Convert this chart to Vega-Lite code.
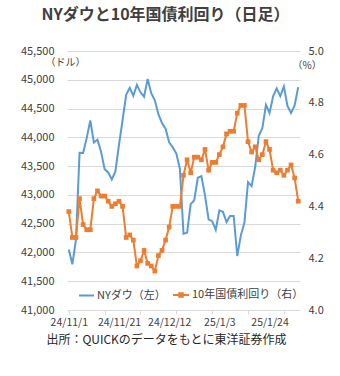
{
  "$schema": "https://vega.github.io/schema/vega-lite/v6.json",
  "width": 233,
  "height": 259,
  "autosize": {"type": "none"},
  "padding": {"left": 67, "top": 51, "right": 40, "bottom": 66},
  "background": "white",
  "config": {
    "font": "Noto Sans CJK JP",
    "view": {"stroke": null},
    "axis": {"labelFont": "Noto Sans CJK JP", "titleFont": "Noto Sans CJK JP", "labelColor": "#404040", "titleColor": "#404040"},
    "legend": {"labelFont": "Noto Sans CJK JP"}
  },
  "title": {
    "text": "NYダウと10年国債利回り（日足）",
    "fontSize": 16,
    "fontWeight": "bold",
    "color": "#404040",
    "anchor": "middle",
    "frame": "group",
    "dx": -18,
    "offset": 22
  },
  "data": {
    "values": [
      {"d": "24/11/1", "dow": 42052, "y10": 4.38},
      {"d": "24/11/4", "dow": 41795, "y10": 4.28},
      {"d": "24/11/5", "dow": 42222, "y10": 4.28},
      {"d": "24/11/6", "dow": 43730, "y10": 4.43},
      {"d": "24/11/7", "dow": 43729, "y10": 4.33},
      {"d": "24/11/8", "dow": 43989, "y10": 4.31},
      {"d": "24/11/11", "dow": 44293, "y10": 4.31},
      {"d": "24/11/12", "dow": 43911, "y10": 4.43},
      {"d": "24/11/13", "dow": 43958, "y10": 4.46},
      {"d": "24/11/14", "dow": 43751, "y10": 4.44},
      {"d": "24/11/15", "dow": 43445, "y10": 4.44},
      {"d": "24/11/18", "dow": 43390, "y10": 4.42},
      {"d": "24/11/19", "dow": 43269, "y10": 4.40},
      {"d": "24/11/20", "dow": 43408, "y10": 4.41},
      {"d": "24/11/21", "dow": 43870, "y10": 4.42},
      {"d": "24/11/22", "dow": 44297, "y10": 4.40},
      {"d": "24/11/25", "dow": 44737, "y10": 4.28},
      {"d": "24/11/26", "dow": 44860, "y10": 4.29},
      {"d": "24/11/27", "dow": 44722, "y10": 4.27},
      {"d": "24/11/29", "dow": 44911, "y10": 4.17},
      {"d": "24/12/2", "dow": 44782, "y10": 4.19},
      {"d": "24/12/3", "dow": 44706, "y10": 4.23},
      {"d": "24/12/4", "dow": 45014, "y10": 4.18},
      {"d": "24/12/5", "dow": 44766, "y10": 4.17},
      {"d": "24/12/6", "dow": 44643, "y10": 4.15},
      {"d": "24/12/9", "dow": 44402, "y10": 4.21},
      {"d": "24/12/10", "dow": 44248, "y10": 4.23},
      {"d": "24/12/11", "dow": 44149, "y10": 4.27},
      {"d": "24/12/12", "dow": 43914, "y10": 4.32},
      {"d": "24/12/13", "dow": 43828, "y10": 4.40},
      {"d": "24/12/16", "dow": 43717, "y10": 4.40},
      {"d": "24/12/17", "dow": 43450, "y10": 4.40},
      {"d": "24/12/18", "dow": 42327, "y10": 4.52},
      {"d": "24/12/19", "dow": 42342, "y10": 4.58},
      {"d": "24/12/20", "dow": 42840, "y10": 4.53},
      {"d": "24/12/23", "dow": 42907, "y10": 4.59},
      {"d": "24/12/24", "dow": 43297, "y10": 4.59},
      {"d": "24/12/26", "dow": 43326, "y10": 4.58},
      {"d": "24/12/27", "dow": 42992, "y10": 4.62},
      {"d": "24/12/30", "dow": 42574, "y10": 4.54},
      {"d": "24/12/31", "dow": 42544, "y10": 4.57},
      {"d": "25/1/2", "dow": 42392, "y10": 4.57},
      {"d": "25/1/3", "dow": 42732, "y10": 4.60},
      {"d": "25/1/6", "dow": 42707, "y10": 4.63},
      {"d": "25/1/7", "dow": 42528, "y10": 4.68},
      {"d": "25/1/8", "dow": 42635, "y10": 4.69},
      {"d": "25/1/9", "dow": 42635, "y10": 4.69},
      {"d": "25/1/10", "dow": 41938, "y10": 4.76},
      {"d": "25/1/13", "dow": 42297, "y10": 4.79},
      {"d": "25/1/14", "dow": 42518, "y10": 4.79},
      {"d": "25/1/15", "dow": 43222, "y10": 4.65},
      {"d": "25/1/16", "dow": 43153, "y10": 4.61},
      {"d": "25/1/17", "dow": 43488, "y10": 4.63},
      {"d": "25/1/21", "dow": 44026, "y10": 4.58},
      {"d": "25/1/22", "dow": 44157, "y10": 4.60},
      {"d": "25/1/23", "dow": 44565, "y10": 4.65},
      {"d": "25/1/24", "dow": 44424, "y10": 4.62},
      {"d": "25/1/27", "dow": 44714, "y10": 4.54},
      {"d": "25/1/28", "dow": 44850, "y10": 4.53},
      {"d": "25/1/29", "dow": 44714, "y10": 4.54},
      {"d": "25/1/30", "dow": 44882, "y10": 4.52},
      {"d": "25/1/31", "dow": 44545, "y10": 4.54},
      {"d": "25/2/3", "dow": 44422, "y10": 4.56},
      {"d": "25/2/4", "dow": 44556, "y10": 4.51},
      {"d": "25/2/5", "dow": 44873, "y10": 4.42}
    ]
  },
  "layer": [
    {
      "mark": {"type": "line", "strokeWidth": 2},
      "encoding": {
        "x": {
          "field": "d", "type": "ordinal", "sort": null,
          "scale": {"type": "point", "padding": 0.5},
          "axis": {
            "orient": "bottom",
            "values": ["24/11/1", "24/11/15", "24/12/2", "24/12/16", "24/12/31", "25/1/15", "25/1/30"],
            "labels": false, "grid": false, "domain": true, "domainColor": "#d9d9d9",
            "ticks": true, "tickColor": "#d9d9d9", "tickSize": 4, "title": null
          }
        },
        "y": {
          "field": "dow", "type": "quantitative",
          "scale": {"domain": [41000, 45500], "zero": false, "nice": false},
          "axis": {
            "orient": "left",
            "values": [41000, 41500, 42000, 42500, 43000, 43500, 44000, 44500, 45000, 45500],
            "format": ",.0f", "grid": true, "gridColor": "#d9d9d9", "gridWidth": 1,
            "domain": false, "ticks": false, "labelFontSize": 11, "labelPadding": 13,
            "title": "（ドル）", "titleAngle": 0, "titleFontSize": 10, "titleFontWeight": "normal",
            "titleAlign": "left", "titleBaseline": "middle", "titleX": -22, "titleY": 11
          }
        },
        "color": {
          "datum": "NYダウ（左）",
          "scale": {"range": ["#5B9BD5"]},
          "legend": {
            "orient": "none", "legendX": 11, "legendY": 236, "title": null, "padding": 0,
            "symbolType": "stroke", "symbolSize": 225, "symbolStrokeWidth": 2,
            "labelFontSize": 11, "labelColor": "#404040", "labelOffset": 2
          }
        }
      }
    },
    {
      "mark": {"type": "line", "strokeWidth": 2, "point": {"shape": "square", "size": 22, "filled": true}},
      "encoding": {
        "x": {
          "field": "d", "type": "ordinal", "sort": null,
          "axis": {
            "orient": "bottom",
            "values": ["24/11/1", "24/11/21", "24/12/12", "25/1/3", "25/1/24"],
            "labelAngle": 0, "labelFontSize": 10.5, "labelPadding": 7, "grid": false,
            "domain": false, "ticks": false,
            "title": "出所：QUICKのデータをもとに東洋証券作成",
            "titleFontSize": 12, "titleFontWeight": "normal", "titleColor": "#262626",
            "titlePadding": 7, "titleX": 99, "titleAlign": "center"
          }
        },
        "y": {
          "field": "y10", "type": "quantitative",
          "scale": {"domain": [4.0, 5.0], "zero": false, "nice": false},
          "axis": {
            "orient": "right",
            "values": [4.0, 4.2, 4.4, 4.6, 4.8, 5.0],
            "format": ".1f", "grid": false, "domain": false, "ticks": false,
            "labelFontSize": 11, "labelPadding": 8,
            "title": "（%）", "titleAngle": 0, "titleFontSize": 10, "titleFontWeight": "normal",
            "titleAlign": "left", "titleBaseline": "middle", "titleX": -8, "titleY": 14
          }
        },
        "color": {
          "datum": "10年国債利回り（右）",
          "scale": {"range": ["#ED7D31"]},
          "legend": {
            "orient": "none", "legendX": 105, "legendY": 235, "title": null, "padding": 0,
            "symbolType": "M-1,0H1M-0.22,-0.22H0.22V0.22H-0.22Z", "symbolSize": 256, "symbolStrokeWidth": 2,
            "labelFontSize": 11, "labelColor": "#404040", "labelOffset": 2,
            "encode": {"symbols": {"update": {"fill": {"value": "#ED7D31"}, "stroke": {"value": "#ED7D31"}}}}
          }
        }
      }
    }
  ],
  "resolve": {
    "scale": {"y": "independent", "color": "independent"},
    "axis": {"x": "independent", "y": "independent"},
    "legend": {"color": "independent"}
  }
}
